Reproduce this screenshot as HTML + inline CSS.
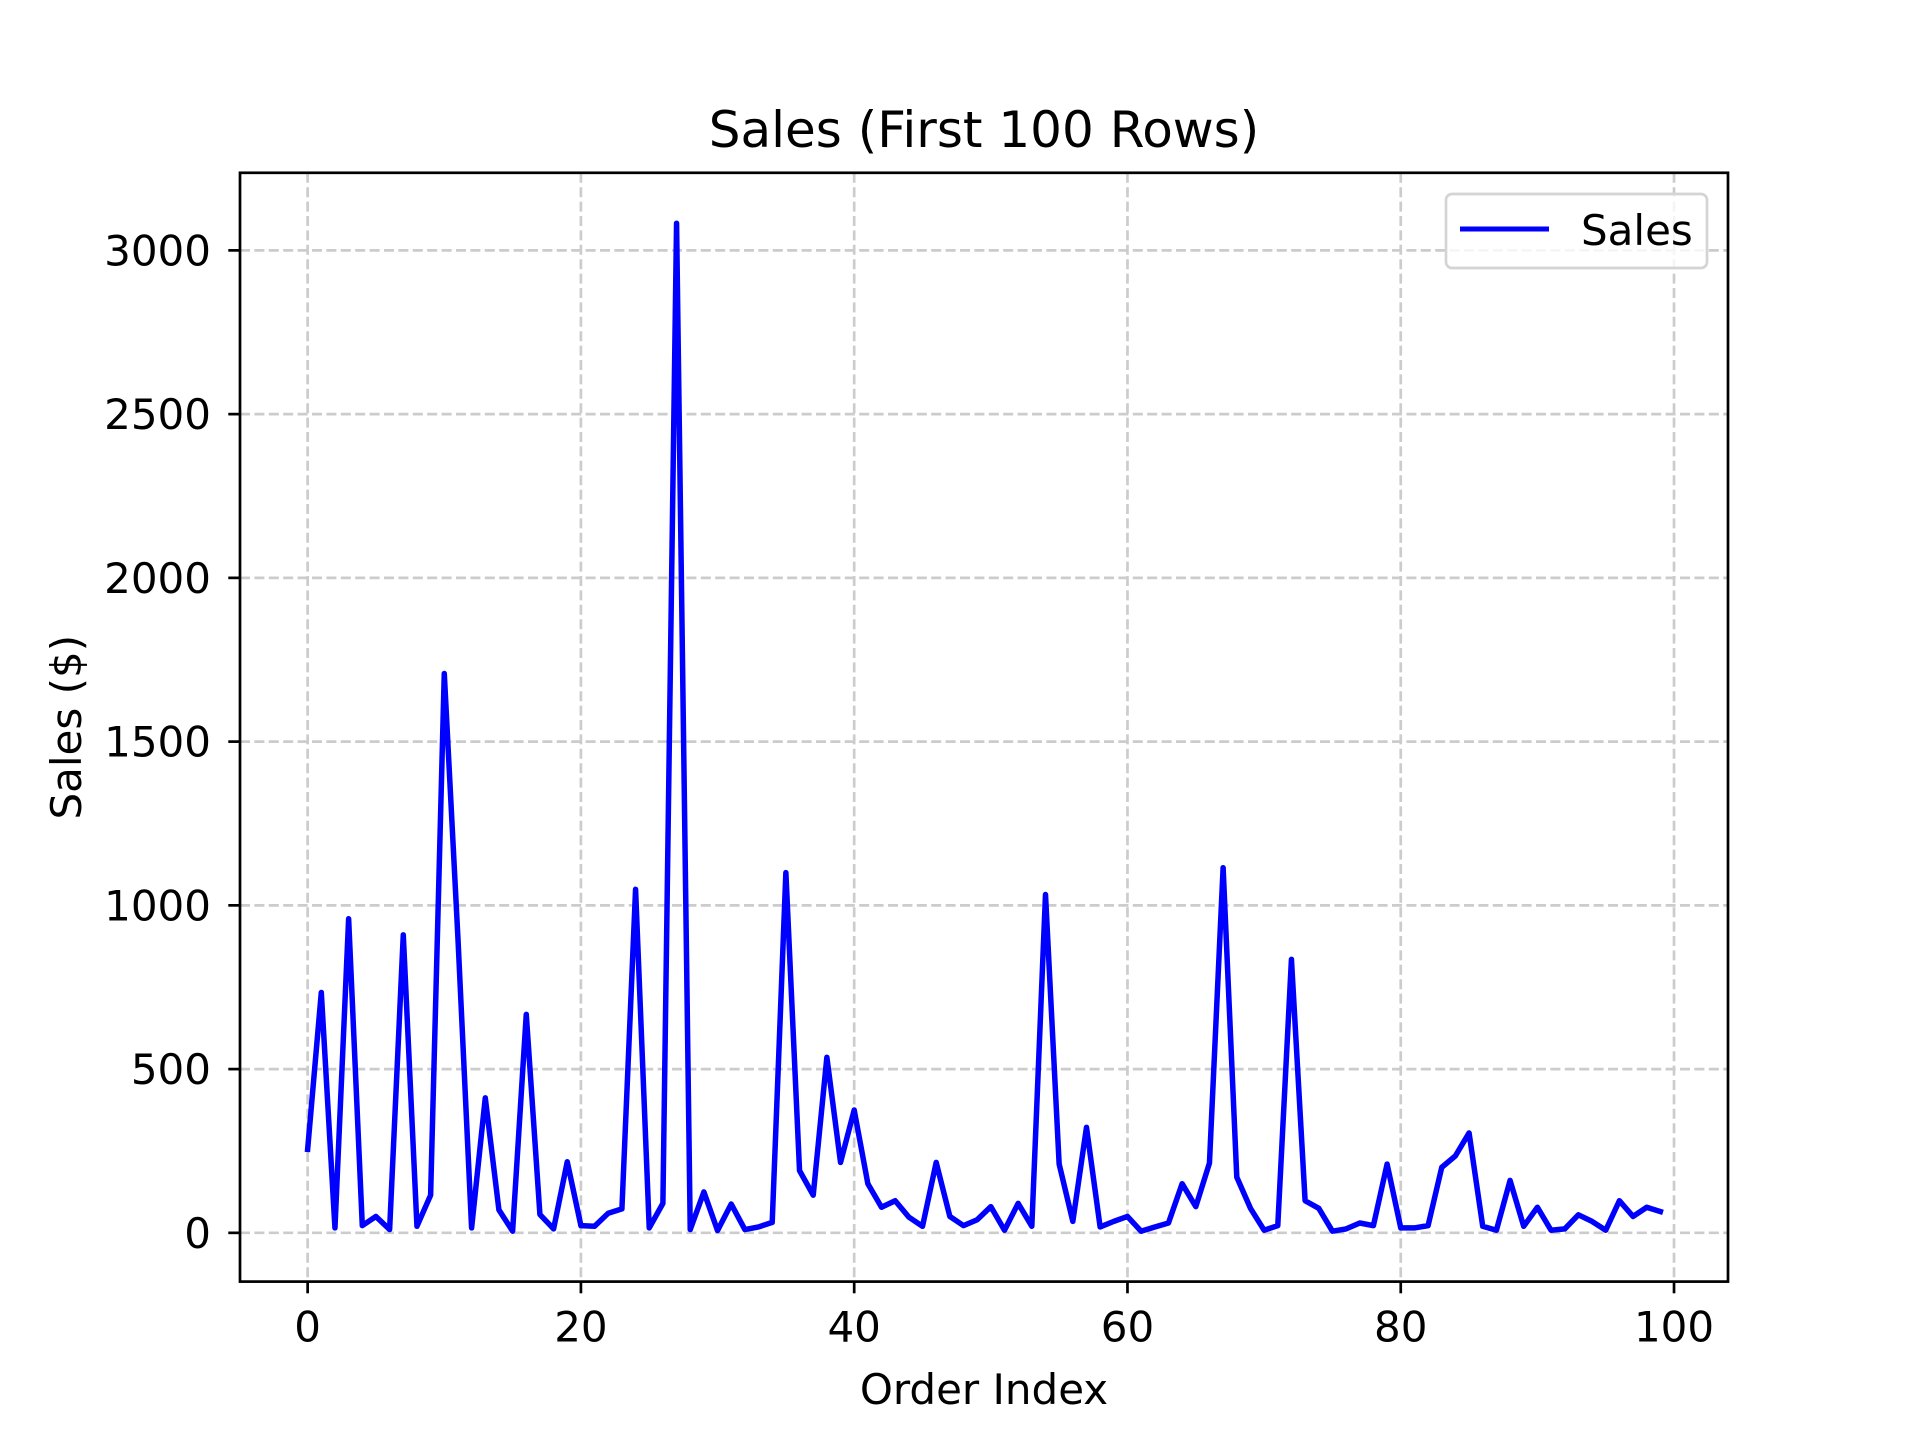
<!DOCTYPE html>
<html><head><meta charset="utf-8"><style>
html,body{margin:0;padding:0;background:#fff;}
svg{display:block;font-family:"DejaVu Sans","Liberation Sans",sans-serif;}
</style></head><body>
<svg id="chart" width="1920" height="1440" viewBox="0 0 1920 1440" xmlns="http://www.w3.org/2000/svg">
<rect width="1920" height="1440" fill="#fff"/>
<g id="grid"></g><g id="plot"></g><g id="axes"></g>
</svg>
<script>
const sales = [255,734,15,959,22,50,10,910,20,115,1708,900,15,412,70,5,667,56,12,217,22,20,60,73,1049,15,90,3083,10,125,7,88,10,18,32,1100,190,115,536,215,375,150,78,98,48,20,215,50,22,40,80,8,90,20,1033,210,35,322,18,35,50,5,18,30,150,80,213,1115,170,75,8,22,835,98,75,5,12,30,22,210,15,15,22,200,235,305,20,8,160,20,78,8,12,55,35,8,98,50,78,65];
const xTicks = [0,20,40,60,80,100];
const yTicks = [0,500,1000,1500,2000,2500,3000];
const L=240,R=1728,T=172.8,B=1281.6;
const n=sales.length;
const xmin=-(n-1)*0.05, xmax=(n-1)*1.05;
const dmax=Math.max(...sales), dmin=Math.min(...sales);
const ymin=dmin-(dmax-dmin)*0.05, ymax=dmax+(dmax-dmin)*0.05;
const sx=v=>L+(v-xmin)/(xmax-xmin)*(R-L);
const sy=v=>B-(v-ymin)/(ymax-ymin)*(B-T);
const NS="http://www.w3.org/2000/svg";
const FS=42;
function mk(tag,attrs,parent,text){const e=document.createElementNS(NS,tag);for(const k in attrs)e.setAttribute(k,attrs[k]);if(text!==undefined)e.textContent=text;parent.appendChild(e);return e;}
const grid=document.getElementById('grid'),plot=document.getElementById('plot'),axes=document.getElementById('axes');
xTicks.forEach(t=>{const x=sx(t);
 const g=mk('line',{x1:x,x2:x,y1:T,y2:B,stroke:'#cccccc','stroke-width':2.7,'stroke-dasharray':'10,4.4'},grid);
 
 
 const tk=mk('line',{x1:x,x2:x,y1:B,y2:B+11.7,stroke:'#000','stroke-width':2.7},axes);
 
 
 const lb=mk('text',{x:x,y:B+60,'font-size':FS,'text-anchor':'middle',fill:'#000'},axes,String(t));
 
 
});
yTicks.forEach(t=>{const y=sy(t);
 const g=mk('line',{x1:L,x2:R,y1:y,y2:y,stroke:'#cccccc','stroke-width':2.7,'stroke-dasharray':'10,4.4'},grid);
 
 
 const tk=mk('line',{x1:L-11.7,x2:L,y1:y,y2:y,stroke:'#000','stroke-width':2.7},axes);
 
 
 const lb=mk('text',{x:L-29,y:y+15,'font-size':FS,'text-anchor':'end',fill:'#000'},axes,String(t));
 
 
});
const pts=sales.map((v,i)=>sx(i).toFixed(2)+','+sy(v).toFixed(2)).join(' ');
const line=mk('polyline',{points:pts,fill:'none',stroke:'#0000ff','stroke-width':5.5,'stroke-linejoin':'round','stroke-linecap':'square'},plot);


const fr=mk('rect',{x:L,y:T,width:R-L,height:B-T,fill:'none',stroke:'#000','stroke-width':2.7},axes);


const title=mk('text',{x:(L+R)/2,y:147,'font-size':50,'text-anchor':'middle',fill:'#000'},axes,'Sales (First 100 Rows)');


const xl=mk('text',{x:(L+R)/2,y:1404,'font-size':FS,'text-anchor':'middle',fill:'#000'},axes,'Order Index');


const yl=mk('text',{x:0,y:0,'font-size':FS,'text-anchor':'middle',fill:'#000',transform:'translate(81,'+((T+B)/2)+') rotate(-90)'},axes,'Sales ($)');


const lg=mk('g',{},axes);


mk('rect',{x:1446,y:194,width:261,height:74,rx:6,fill:'#fff','fill-opacity':0.8,stroke:'#d4d4d4','stroke-width':2.7},lg);
const ll=mk('line',{x1:1460,x2:1549,y1:229,y2:229,stroke:'#0000ff','stroke-width':5},lg);


const lt=mk('text',{x:1581,y:245,'font-size':FS,fill:'#000'},lg,'Sales');


</script>
</body></html>
